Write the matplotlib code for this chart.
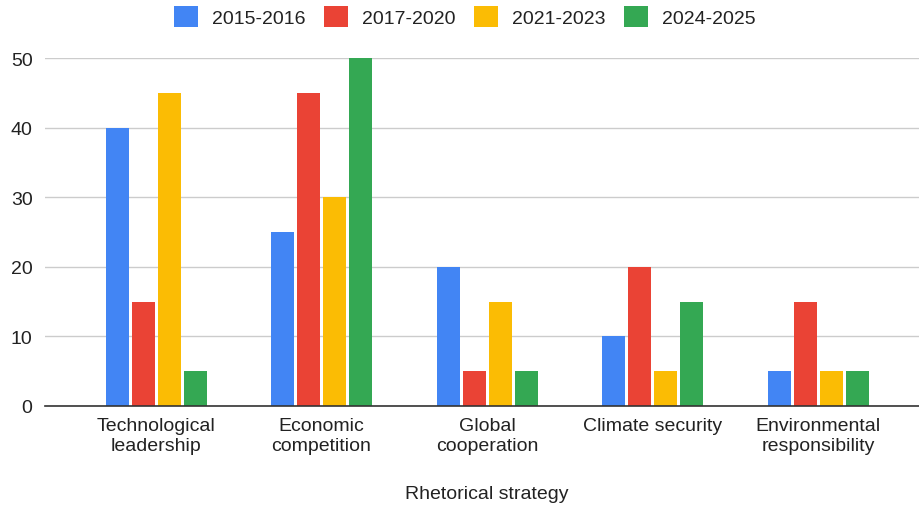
import matplotlib.pyplot as plt
import numpy as np

plt.rcParams['font.family'] = ['Liberation Sans', 'DejaVu Sans']

categories = ["Technological\nleadership", "Economic\ncompetition", "Global\ncooperation",
              "Climate security", "Environmental\nresponsibility"]
periods = ["2015-2016", "2017-2020", "2021-2023", "2024-2025"]
v_2015_2016 = [40, 25, 20, 10, 5]
v_2017_2020 = [15, 45, 5, 20, 15]
v_2021_2023 = [45, 30, 15, 5, 5]
v_2024_2025 = [5, 50, 5, 15, 5]
series = [v_2015_2016, v_2017_2020, v_2021_2023, v_2024_2025]
colors = ["#4285F4", "#EA4335", "#FBBC04", "#34A853"]

fig = plt.figure(figsize=(9.2, 5.06), dpi=100)
ax = fig.add_axes([45 / 920, 1 - 407 / 506, 875 / 920, (407 - 59) / 506])

x = np.arange(len(categories))
step = 0.157
width = 0.139
for i, (vals, label, c) in enumerate(zip(series, periods, colors)):
    ax.bar(x + (i - 1.5) * step, vals, width, color=c, label=label, zorder=3, linewidth=0)

ax.set_xlim(-0.671, 4.616)
ax.set_ylim(0, 50)
ax.set_yticks([0, 10, 20, 30, 40, 50])
ax.set_xticks(x)
ax.set_xticklabels(categories, fontsize=14, color="#222222", linespacing=1.2)
ax.tick_params(axis='y', labelsize=14, colors="#222222", length=0, pad=9)
ax.tick_params(axis='x', length=0, pad=8)
ax.grid(axis='y', color="#cccccc", linewidth=1, zorder=0)
ax.set_axisbelow(True)
for s in ["top", "right", "left"]:
    ax.spines[s].set_visible(False)
ax.spines["bottom"].set_color("#333333")
ax.spines["bottom"].set_linewidth(1.2)
ax.spines["bottom"].set_zorder(4)

ax.set_xlabel("Rhetorical strategy", fontsize=14, color="#222222")
ax.xaxis.set_label_coords((487 - 45) / 875, -(495 - 407) / 348)
ax.xaxis.label.set_va("center")

fig.legend(loc="upper center", bbox_to_anchor=(0.505, 1.02), ncol=4, frameon=False,
           fontsize=14, handlelength=1.25, handleheight=1.25, columnspacing=0.95,
           handletextpad=0.7, labelcolor="#222222")

fig.savefig("out.png", dpi=100)
